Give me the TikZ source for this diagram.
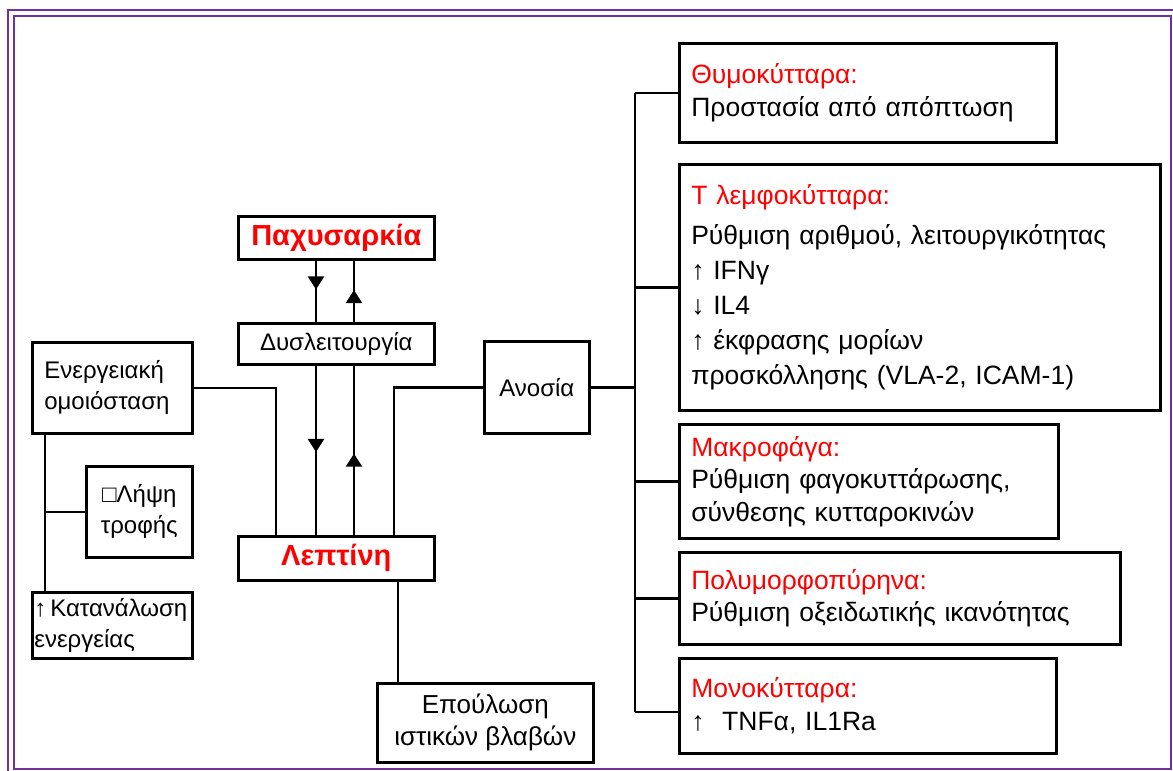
\documentclass[tikz,border=0pt]{standalone}
\usepackage{fontspec}
\setmainfont{Liberation Sans}
\usetikzlibrary{arrows.meta,decorations.markings}
\definecolor{framepurple}{RGB}{112,48,160}
\definecolor{titlered}{RGB}{255,0,0}

\begin{document}
\begin{tikzpicture}[x=1pt, y=-1pt,
      box/.style={draw, line width=2.6pt, rectangle, inner sep=0pt, anchor=north west,
                  align=center, font=\fontsize{24}{31}\selectfont},
      leftbox/.style={box, align=left, inner xsep=12pt},
      cell/.style={box, align=left, inner xsep=12pt, font=\fontsize{26.5}{32.5}\selectfont},
      hot/.style={text=titlered, font=\fontsize{29}{32}\selectfont\bfseries},
      line/.style={line width=2.4pt},
      midarrow/.style={line, decoration={markings,
                  mark=at position #1 with {\arrow{Triangle[width=16pt,length=13pt]}}},
                  postaction={decorate}}
    ]
      \useasboundingbox (0,0) rectangle (1173,771);
      % frame
      \draw[framepurple, line width=2.6pt] (8,10) rectangle (1190,790);
      \draw[framepurple, line width=2.4pt] (14,16) rectangle (1171,769);

      % centre column
      \node[box, hot, minimum width=196pt, minimum height=43pt] (obesity) at (237,215) {Παχυσαρκία};
      \node[box, minimum width=196pt, minimum height=41pt] (dysf) at (237,322) {Δυσλειτουργία};
      \node[box, hot, minimum width=196pt, minimum height=44pt] (leptin) at (237,535) {Λεπτίνη};

      % left side
      \node[leftbox, minimum width=160pt, minimum height=91pt, text width=136pt] (energy) at (31,341)
            {Ενεργειακή\\ομοιόσταση};
      \node[box, minimum width=106pt, minimum height=91pt] (intake) at (85,465) {□Λήψη\\τροφής};
      \node[leftbox, inner xsep=2pt, minimum width=160pt, minimum height=66pt, text width=156pt] (expend) at (31,591)
            {↑\,Κατανάλωση\\ενεργείας};

      % immunity and repair
      \node[box, minimum width=105pt, minimum height=92pt] (immun) at (483,340) {Ανοσία};
      \node[box, minimum width=216pt, minimum height=79pt, font=\fontsize{26}{32}\selectfont] (repair) at (376,682)
            {Επούλωση\\ιστικών βλαβών};

      % immune cells
      \node[cell, minimum width=377pt, minimum height=99pt, text width=353pt] (thymo) at (678,42)
            {\textcolor{titlered}{Θυμοκύτταρα:}\\Προστασία από απόπτωση};
      \node[cell, minimum width=481pt, minimum height=246pt, text width=457pt,
            font=\fontsize{26.5}{35}\selectfont] (tcell) at (678,163)
            {\textcolor{titlered}{Τ λεμφοκύτταρα:}\\[5pt]Ρύθμιση αριθμού, λειτουργικότητας\\↑ IFNγ\\↓ IL4\\
             ↑ έκφρασης μορίων\\προσκόλλησης (VLA-2, ICAM-1)};
      \node[cell, minimum width=379pt, minimum height=114pt, text width=355pt] (macro) at (678,423)
            {\textcolor{titlered}{Μακροφάγα:}\\Ρύθμιση φαγοκυττάρωσης,\\σύνθεσης κυτταροκινών};
      \node[cell, minimum width=441pt, minimum height=92pt, text width=417pt] (pmn) at (678,551)
            {\textcolor{titlered}{Πολυμορφοπύρηνα:}\\Ρύθμιση οξειδωτικής ικανότητας};
      \node[cell, minimum width=377pt, minimum height=95pt, text width=353pt] (mono) at (678,657)
            {\textcolor{titlered}{Μονοκύτταρα:}\\↑\ \ TNFα, IL1Ra};

      % junction columns
      \coordinate (down) at (316,0);
      \coordinate (up) at (354,0);
      \coordinate (ljoin) at (276,0);
      \coordinate (rjoin) at (394,0);
      \coordinate (heal) at (398,0);
      \coordinate (lbus) at (45,0);
      \coordinate (bus) at (635,0);

      \draw[midarrow=0.47] (obesity.south -| down) -- (dysf.north -| down);
      \draw[midarrow=0.52] (dysf.north -| up) -- (obesity.south -| up);
      \draw[midarrow=0.51] (dysf.south -| down) -- (leptin.north -| down);
      \draw[midarrow=0.48] (leptin.north -| up) -- (dysf.south -| up);

      \draw[line] (energy.east) -| (leptin.north -| ljoin);
      \draw[line] (immun.west) -| (leptin.north -| rjoin);
      \draw[line] (leptin.south -| heal) -- (repair.north -| heal);
      \draw[line] (energy.south -| lbus) -- (expend.north -| lbus);
      \draw[line] (intake.west) -- (intake.west -| lbus);

      \draw[line] (immun.east) -- (immun.east -| bus);
      \draw[line] (thymo.west -| bus) -- ([yshift=-6pt]mono.west -| bus);
      \foreach \cellbox in {thymo, tcell, macro, pmn}
        \draw[line] (\cellbox.west) -- (\cellbox.west -| bus);
      \draw[line] ([yshift=-6pt]mono.west) -- ([yshift=-6pt]mono.west -| bus);
    \end{tikzpicture}
\end{document}
